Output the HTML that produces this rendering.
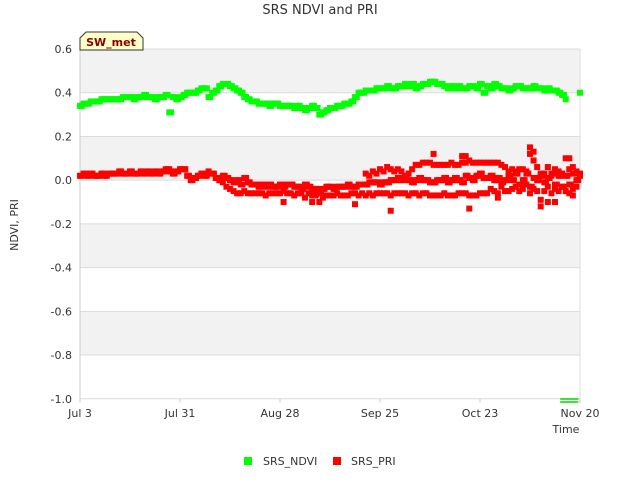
<!DOCTYPE html>
<html><head><meta charset="utf-8"><style>
body{margin:0;background:#fff;font-family:"Liberation Sans","DejaVu Sans",sans-serif}
svg text{font-family:"DejaVu Sans","Liberation Sans",sans-serif}
</style></head><body>
<svg id="chart" width="640" height="480" xmlns="http://www.w3.org/2000/svg">
<rect width="640" height="480" fill="#fff"/>
<text x="320" y="14" text-anchor="middle" font-size="13" fill="#333">SRS NDVI and PRI</text>
<g id="bands"></g>
<g id="grid"></g>
<g id="yticks"></g>
<g id="xticks"></g>
<g id="marks"></g>
<text transform="translate(18,225) rotate(-90)" text-anchor="middle" font-size="11" fill="#333">NDVI, PRI</text>
<text x="566" y="433" text-anchor="middle" font-size="11" fill="#333">Time</text>
<g>
<path d="M80,50 L80,38 L86,32 L137,32 L143,38 L143,50 Z" fill="#ffffc8" stroke="#333" stroke-width="1"/>
<text x="111" y="46" text-anchor="middle" font-size="11" font-weight="bold" fill="#8b0000">SW_met</text>
</g>
<g>
<g><rect x="244" y="457" width="8" height="8" fill="#00ff00"/><text x="263" y="465" font-size="11" fill="#333">SRS_NDVI</text></g>
<g><rect x="333" y="457" width="8" height="8" fill="#ff0000"/><text x="351" y="465" font-size="11" fill="#333">SRS_PRI</text></g>
</g>
</svg>
<script>
const xTickLabels=["Jul 3","Jul 31","Aug 28","Sep 25","Oct 23","Nov 20"];
const xTickDays=[0,28,56,84,112,140];
const yTicks=[0.6,0.4,0.2,0,-0.2,-0.4,-0.6,-0.8,-1.0];
const ndvi=[.34,.35,.35,.36,.36,.36,.37,.37,.37,.37,
.37,.37,.38,.38,.38,.37,.38,.38,.39,.38,
.38,.37,.38,.38,.39,.31,.38,.37,.38,.39,
.40,.40,.40,.41,.42,.42,.38,.40,.41,.43,
.44,.44,.43,.42,.41,.40,.38,.37,.36,.36,
.35,.35,.35,.34,.35,.35,.34,.34,.34,.34,
.33,.34,.33,.32,.33,.34,.33,.30,.31,.32,
.33,.33,.34,.34,.35,.35,.36,.38,.40,.40,
.41,.41,.41,.42,.42,.42,.43,.42,.42,.43,
.43,.44,.43,.44,.42,.43,.44,.44,.45,.45,
.44,.44,.43,.42,.43,.42,.43,.42,.42,.43,
.43,.42,.44,.40,.43,.42,.44,.43,.42,.42,
.41,.42,.43,.43,.42,.42,.42,.43,.42,.42,
.41,.42,.41,.41,.40,.39,.37,null,null,null,.40];
const priA=[.02,.03,.02,.03,.02,.02,.03,.02,.03,.03,
.03,.04,.03,.03,.04,.03,.03,.04,.03,.04,
.03,.04,.03,.04,.05,.04,.03,.04,.05,.05,
.02,0,.01,.02,.03,.02,.03,.03,.01,0,
.02,.01,0,-.01,0,-.02,.01,-.01,-.02,-.02,
-.03,-.02,-.03,-.02,-.03,-.03,-.02,-.03,-.02,-.02,
-.03,-.03,-.04,-.02,-.03,-.05,-.04,-.06,-.04,-.03,
-.03,-.04,-.03,-.03,-.03,-.02,-.03,-.03,-.02,-.02,
-.02,-.01,-.01,-.01,-.02,-.01,-.01,0,0,.01,
0,.01,0,-.01,0,.01,0,0,-.01,-.01,
0,0,.01,-.01,0,.01,0,-.01,.02,.01,
0,.02,.03,.01,.01,.02,0,.01,-.01,0,
.02,0,.03,-.02,0,.03,-.03,.01,0,.02,
-.01,.01,.03,-.02,.02,-.03,.02,-.02,.03,0,.02];
const priBStart=40;
const priB=[-.01,-.03,-.04,-.05,-.06,-.06,-.05,-.06,-.06,-.06,
-.06,-.06,-.07,-.06,-.06,-.06,-.06,-.05,-.06,-.06,
-.07,-.06,-.06,-.08,-.06,-.07,-.07,-.1,-.08,-.07,
-.07,-.07,-.06,-.07,-.07,-.07,-.06,-.06,-.07,-.06,
-.07,-.06,-.07,-.06,-.06,-.06,-.06,-.07,-.06,-.06,
-.06,-.06,-.07,-.06,-.06,-.07,-.06,-.06,-.07,-.07,
-.07,-.07,-.06,-.07,-.07,-.07,-.06,-.06,-.06,-.07,
-.07,-.07,-.06,-.06,-.06,-.04,-.05,-.06,-.03,-.05,
-.05,-.04,-.03,-.05,-.04,-.02,-.06,-.04,-.05,-.09,
-.05,-.03,-.06,-.04,-.05,-.03,-.05,-.06,-.04,-.03];
const priCStart=80;
const priC=[.03,.02,.04,.03,.05,.04,.06,.05,.04,.05,
.04,.02,.03,.05,.07,.07,.08,.08,.08,.07,
.07,.07,.07,.07,.08,.07,.07,.08,.08,.09,
.08,.08,.08,.08,.08,.08,.08,.08,.07,.06,
.04,.05,.04,.05,.05,.04,.12,.09,.06,.03,
.03,.06,.02,.05,.04,.03,.10,.05,.06,.04,.03];
const outDays=[57,65,77,87,99,107,108,109,117,126,127,129,131,133,137,138,25,36];
const outVals=[-.1,-.1,-.11,-.14,.12,.11,.11,-.13,-.08,.15,.13,-.12,-.1,-.1,.1,-.07,.05,.04];
const ndviClipDays=[135,136,137,138,139];

const X0=80,X1=580,Y0=49,Y1=398.75,VMAX=0.6,VMIN=-1.0,DMAX=140;
const xs=d=>X0+(d/DMAX)*(X1-X0);
const ys=v=>Y0+(VMAX-v)/(VMAX-VMIN)*(Y1-Y0);
const NS="http://www.w3.org/2000/svg";
function mk(tag,attrs,parent){const e=document.createElementNS(NS,tag);for(const k in attrs)e.setAttribute(k,attrs[k]);parent.appendChild(e);return e;}
const bands=document.getElementById('bands'),grid=document.getElementById('grid'),yt=document.getElementById('yticks'),xt=document.getElementById('xticks'),marks=document.getElementById('marks');
mk('rect',{x:X0,y:Y0,width:X1-X0,height:Y1-Y0,fill:'#fff'},bands);
for(let i=0;i<yTicks.length-1;i+=2){const r=mk('rect',{x:X0,y:ys(yTicks[i]),width:X1-X0,height:ys(yTicks[i+1])-ys(yTicks[i]),fill:'#f2f2f2'},bands);

}
yTicks.forEach(v=>{const l=mk('line',{x1:X0,x2:X1,y1:ys(v),y2:ys(v),stroke:'#dcdcdc','stroke-width':1},grid);


const t=mk('text',{x:X0-8,y:ys(v)+4,'text-anchor':'end','font-size':11,fill:'#333'},yt);t.textContent=v.toFixed(1);

});
mk('line',{x1:X0,x2:X0,y1:Y0,y2:Y1+1,stroke:'#ccc'},grid);
mk('line',{x1:X1,x2:X1,y1:Y0,y2:Y1+1,stroke:'#ddd'},grid);
xTickDays.forEach((d,i)=>{const t=mk('text',{x:xs(d),y:417,'text-anchor':'middle','font-size':11,fill:'#333'},xt);t.textContent=xTickLabels[i];


mk('line',{x1:xs(d),x2:xs(d),y1:Y1,y2:Y1+4,stroke:'#ccc'},xt);});
function sq(d,v,c,name){if(v===null||v===undefined)return;const r=mk('rect',{x:xs(d)-3,y:ys(v)-3,width:6,height:6,fill:c},marks);

}
priA.forEach((v,i)=>{sq(i,v,'#ff0000','pri-point');if(i<140)sq(i+0.5,v,'#ff0000','pri-point');});
priB.forEach((v,i)=>sq(i+priBStart,v,'#ff0000','pri-point'));
priC.forEach((v,i)=>sq(i+priCStart,v,'#ff0000','pri-point'));
outDays.forEach((d,i)=>sq(d,outVals[i],'#ff0000','pri-point'));
ndvi.forEach((v,i)=>{sq(i,v,'#00ff00','ndvi-point');if(i<140&&ndvi[i+1]!==null)sq(i+0.5,v,'#00ff00','ndvi-point');});
ndviClipDays.forEach(d=>{const l=mk('rect',{x:xs(d)-2,y:Y1-0.5,width:4,height:1.5,fill:'#00dd00'},marks);


const l2=mk('rect',{x:xs(d)-2,y:Y1+2.5,width:4,height:1.5,fill:'#00dd00'},marks);

});
</script>
</body></html>
